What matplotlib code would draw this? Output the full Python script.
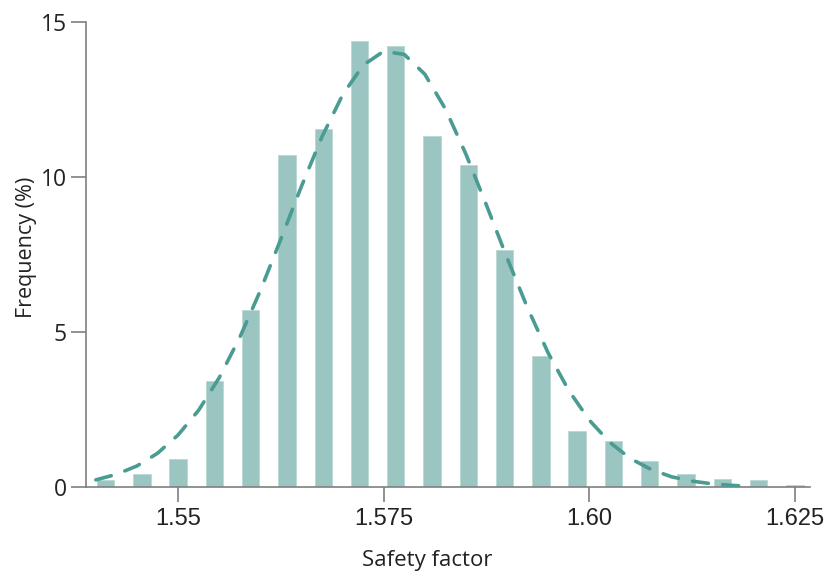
#!/usr/bin/env python3
import matplotlib
matplotlib.use('Agg')
import matplotlib.pyplot as plt

# histogram bins (centres) and frequencies in %
bin_centers = [1.54118, 1.54559, 1.55000, 1.55441, 1.55882, 1.56324, 1.56765,
               1.57206, 1.57647, 1.58088, 1.58529, 1.58971, 1.59412, 1.59853,
               1.60294, 1.60735, 1.61176, 1.61618, 1.62059, 1.62500]
freq = [0.23, 0.42, 0.89, 3.42, 5.71, 10.73, 11.57, 14.40, 14.24, 11.32,
        10.41, 7.65, 4.22, 1.82, 1.47, 0.83, 0.42, 0.27, 0.23, 0.06]

# fitted curve
fit_x = [1.5400, 1.5425, 1.5450, 1.5475, 1.5500, 1.5525, 1.5550, 1.5575,
         1.5600, 1.5625, 1.5650, 1.5675, 1.5700, 1.5725, 1.5750, 1.5775,
         1.5800, 1.5825, 1.5850, 1.5875, 1.5900, 1.5925, 1.5950, 1.5975,
         1.6000, 1.6025, 1.6050, 1.6075, 1.6100, 1.6125, 1.6150, 1.6175,
         1.6190]
fit_y = [0.23, 0.41, 0.68, 1.09, 1.68, 2.48, 3.53, 4.83,
         6.34, 8.01, 9.71, 11.31, 12.66, 13.62, 14.07, 13.97,
         13.33, 12.21, 10.75, 9.10, 7.40, 5.78, 4.33, 3.12,
         2.16, 1.44, 0.92, 0.57, 0.33, 0.19, 0.10, 0.05,
         0.03]

xticks = [1.55, 1.575, 1.60, 1.625]
xtick_labels = ['1.55', '1.575', '1.60', '1.625']
yticks = [0, 5, 10, 15]

BAR_COLOR = '#9bc5c1'
LINE_COLOR = '#4a9b92'
AXIS_COLOR = '#7f7f7f'

fig = plt.figure(figsize=(8.27, 5.72), dpi=100, facecolor='w')
ax = fig.add_axes([0.104, 0.1486, 0.875, 0.8121])

ax.bar(bin_centers, freq, width=0.00212, color=BAR_COLOR,
       edgecolor='#b9d8d5', linewidth=0.6, zorder=2)
ax.plot(fit_x, fit_y, color=LINE_COLOR, linewidth=2.6, linestyle=(0, (4.4, 4.0)),
        dash_capstyle='round', zorder=3)

ax.set_xlim(1.5388, 1.6268)
ax.set_ylim(0, 15)

for s in ['top', 'right']:
    ax.spines[s].set_visible(False)
for s in ['left', 'bottom']:
    ax.spines[s].set_color(AXIS_COLOR)
    ax.spines[s].set_linewidth(1.2)

ax.set_xticks(xticks)
ax.set_xticklabels(xtick_labels, fontsize=17, family='Liberation Sans', color='#222222')
ax.set_yticks(yticks)
ax.set_yticklabels([str(v) for v in yticks], fontsize=16.5, family='Open Sans', color='#222222')
ax.tick_params(axis='both', direction='out', length=11, width=1.2, color=AXIS_COLOR)
ax.tick_params(axis='x', pad=4)
ax.tick_params(axis='y', pad=3)

ax.set_xlabel('Safety factor', fontsize=16, family='Open Sans', color='#222222')
ax.xaxis.set_label_coords(0.471, -0.135)
ax.set_ylabel('Frequency (%)', fontsize=15.5, family='Open Sans', color='#222222')
ax.yaxis.set_label_coords(-0.068, 0.516)

fig.savefig('out.png', dpi=100)
